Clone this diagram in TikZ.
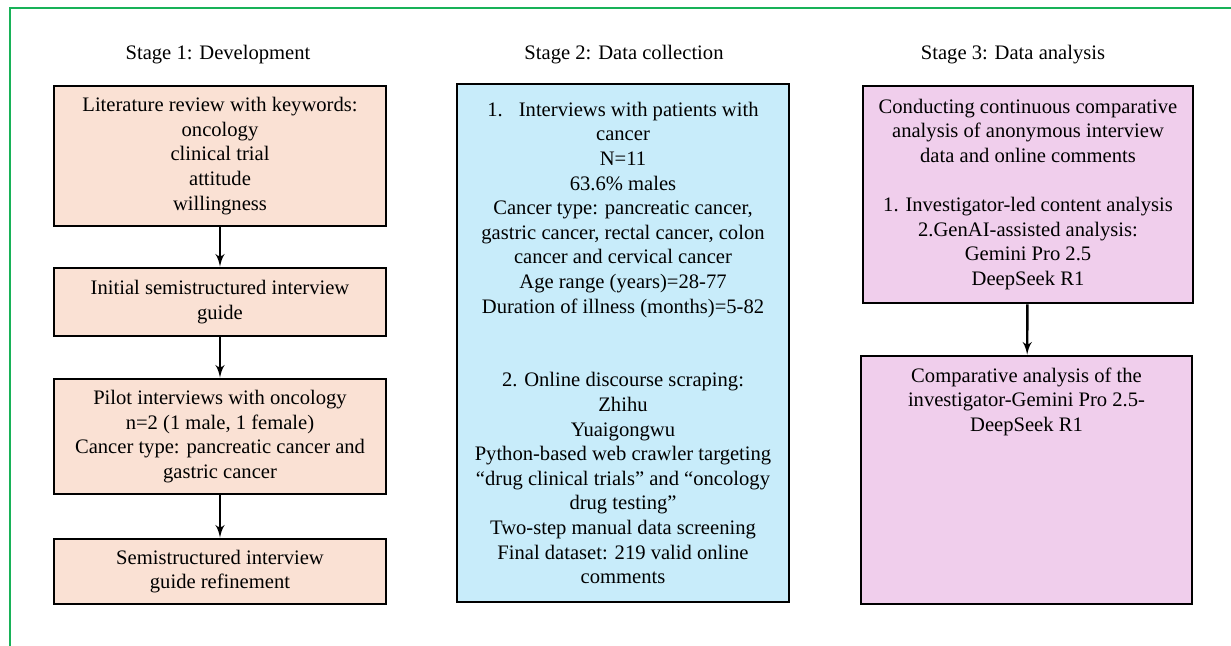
\documentclass[tikz,border=0pt]{standalone}
\usepackage{fontspec}
\setmainfont{Liberation Serif}
\usetikzlibrary{arrows}
\definecolor{stageone}{RGB}{250,225,212}
\definecolor{stagetwo}{RGB}{200,236,250}
\definecolor{stagethree}{RGB}{240,206,236}
\definecolor{framegreen}{RGB}{24,178,88}

\begin{document}
\begin{tikzpicture}[x=0.5pt, y=-0.5pt, font=\fontsize{10.3}{12.3}\selectfont]
\tikzstyle{line} = [draw, line width=1.2pt, -latex']
\tikzstyle{stagebox} = [draw, line width=1.4pt, align=center, inner sep=0pt, minimum width=166pt]

\useasboundingbox (0,0) rectangle (1231,646);
\draw[framegreen, line width=1.3pt] (10,646) -- (10,8) -- (1231,8);

% Stage 1
\node (Stage1) at (218,55) {Stage 1: Development};
\node[stagebox, fill=stageone, minimum height=70pt] (Literature) at (220,156)
{Literature review with keywords:\\ oncology\\ clinical trial\\ attitude\\ willingness};
\node[stagebox, fill=stageone, minimum height=34pt] (Initial) at (220,302)
{Initial semistructured interview\\ guide};
\node[stagebox, fill=stageone, minimum height=57.5pt] (Pilot) at (220,436.5)
{Pilot interviews with oncology\\ n=2 (1 male, 1 female)\\ Cancer type: pancreatic cancer and\\ gastric cancer};
\node[stagebox, fill=stageone, minimum height=32.5pt] (Refinement) at (220,571.5)
{Semistructured interview\\ guide refinement};

% Stage 2
\node (Stage2) at (624,55) {Stage 2: Data collection};
\node[stagebox, fill=stagetwo, minimum height=259pt] (Collection) at (623,343)
{1.\hspace{8pt}Interviews with patients with\\ cancer\\ N=11\\ 63.6\% males\\
Cancer type: pancreatic cancer,\\ gastric cancer, rectal cancer, colon\\ cancer and cervical cancer\\
Age range (years)=28-77\\ Duration of illness (months)=5-82\\[24.6pt]
2. Online discourse scraping:\\ Zhihu\\ Yuaigongwu\\ Python-based web crawler targeting\\
“drug clinical trials” and “oncology\\ drug testing”\\ Two-step manual data screening\\
Final dataset: 219 valid online\\ comments};

% Stage 3
\node (Stage3) at (1013,55) {Stage 3: Data analysis};
\node[stagebox, fill=stagethree, minimum width=165pt, minimum height=108.5pt] (Conducting) at (1028,194.5)
{Conducting continuous comparative\\ analysis of anonymous interview\\ data and online comments\\[12.3pt]
1. Investigator-led content analysis\\ 2.GenAI-assisted analysis:\\ Gemini Pro 2.5\\ DeepSeek R1};
\node[stagebox, fill=stagethree, minimum width=165.5pt, minimum height=124pt] (Comparison) at (1026.5,480) {};
\node[anchor=north, align=center] (ComparisonText) at ([yshift=-3pt]Comparison.north)
{Comparative analysis of the\\ investigator-Gemini Pro 2.5-\\ DeepSeek R1};

\path[line] (Literature) -- (Initial);
\path[line] (Initial) -- (Pilot);
\path[line] (Pilot) -- (Refinement);
\path[line] (Conducting) -- (Comparison);

\end{tikzpicture}
\end{document}
